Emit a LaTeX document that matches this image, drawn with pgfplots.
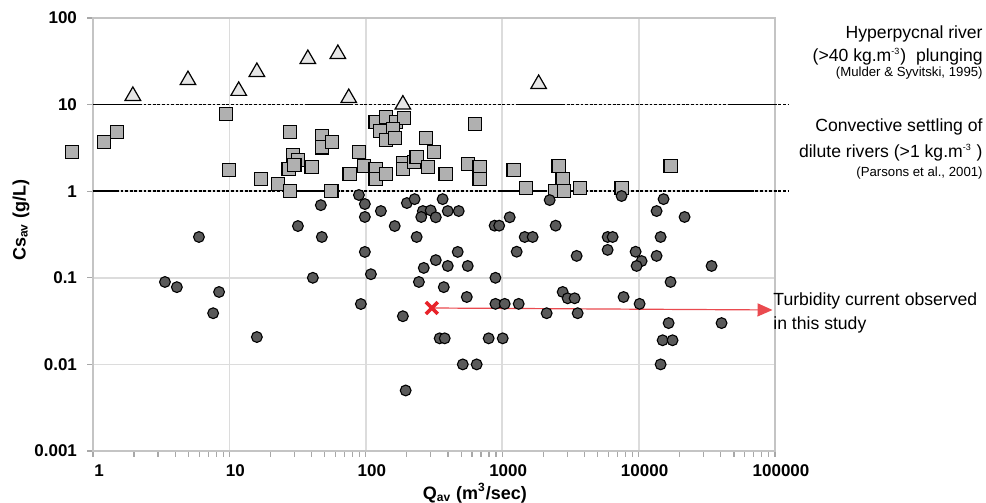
\documentclass[border=0pt]{standalone}
\usepackage{fontspec}
\setmainfont{Liberation Sans}
\usepackage{pgfplots}
\pgfplotsset{compat=1.18}
\usetikzlibrary{arrows.meta}
\definecolor{gridgray}{HTML}{DCDCDC}
\definecolor{axisgray}{HTML}{C4C4C4}
\definecolor{tickgray}{HTML}{A8A8A8}
\definecolor{sqfill}{HTML}{B0B0B0}
\definecolor{circfill}{HTML}{5A5A5A}
\definecolor{trifill}{HTML}{E6E6E6}
\definecolor{xred}{HTML}{E8232A}
\definecolor{arrowred}{HTML}{EA4A4F}
\begin{document}
\begin{tikzpicture}
\useasboundingbox (0,0) rectangle (493pt,251.5pt);
\begin{axis}[
  at={(46.5pt,26pt)}, anchor=south west,
  scale only axis, width=341pt, height=216.5pt,
  xmode=log, ymode=log,
  xmin=1, xmax=100000, ymin=0.001, ymax=100,
  xtick={1,10,100,1000,10000,100000},
  xticklabels={1,10,100,1000,10000,100000},
  minor xtick={2,3,4,5,6,7,8,9,20,30,40,50,60,70,80,90,200,300,400,500,600,700,800,900,2000,3000,4000,5000,6000,7000,8000,9000,20000,30000,40000,50000,60000,70000,80000,90000},
  ytick={0.001,0.01,0.1,1,10,100},
  yticklabels={0.001,0.01,0.1,1,10,100},
  grid=major, major grid style={gridgray, line width=0.9pt},
  minor grid style={draw=none},
  axis line style={axisgray, line width=1.1pt},
  tick pos=left,
  yminorticks=false,
  tick align=outside,
  major tick length=3pt, minor tick length=3pt,
  tick style={tickgray, line width=0.6pt},
  ticklabel style={font=\fontsize{8.5}{10}\selectfont\bfseries, text=black},
  xticklabel style={xshift=3pt, yshift=-0.5pt},
  yticklabel style={xshift=-1.5pt},
  clip=false,
  xlabel={Q\textsubscript{av} (m\textsuperscript{3}/sec)},
  ylabel={Cs\textsubscript{av} (g/L)},
  every axis x label/.style={at={(axis description cs:0.56,-0.097)}, anchor=center, font=\fontsize{9}{10}\selectfont\bfseries},
  every axis y label/.style={at={(axis description cs:-0.1056,0.533)}, anchor=center, rotate=90, font=\fontsize{9}{10}\selectfont\bfseries},
]
% reference lines
\addplot[black, line width=0.7pt, dash pattern=on 1.4pt off 0.9pt] coordinates {(1,10) (124000,10)};
\addplot[black, line width=0.7pt, dash pattern=on 1.4pt off 0.9pt] coordinates {(1,1) (124000,1)};
\addplot[black, line width=0.7pt] coordinates {(1,10) (2.2,10)};
\addplot[black, line width=0.7pt] coordinates {(35.7,10) (80,10)};
\addplot[black, line width=0.7pt] coordinates {(1277,10) (2775,10)};
\addplot[black, line width=0.7pt] coordinates {(44900,10) (99100,10)};
\addplot[black, line width=0.7pt] coordinates {(1,1) (1.5,1)};
\addplot[black, line width=0.7pt] coordinates {(25,1) (54,1)};
\addplot[black, line width=0.7pt] coordinates {(954,1) (2126,1)};
\addplot[black, line width=0.7pt] coordinates {(34000,1) (67000,1)};
% arrow
\addplot[arrowred, line width=0.6pt, -{Triangle[length=7.5pt,width=6.5pt]}] coordinates {(305,0.0448) (95900,0.0425)};
% triangles: hyperpycnal
\addplot[only marks, mark=triangle*, mark size=4.5pt, mark options={fill=trifill, draw=black, line width=0.6pt}] coordinates {
(1.96,12.6) (4.97,19.2) (11.7,14.4) (15.9,23.8) (37.6,33.6) (62.4,38.4) (75,11.9) (187,10.0) (1850,17.3)};
% squares
\addplot[only marks, mark=square*, mark size=3.3pt, mark options={fill=sqfill, draw=black, line width=0.6pt}] coordinates {
(0.70,2.84) (1.2,3.7) (1.5,4.8) (9.4,7.8) (9.9,1.76) (17,1.38) (22.7,1.21) (27.7,1.0) (27.7,4.8)
(29.2,2.6) (31.8,2.3) (27.2,1.8) (30,2.0) (40,1.9) (47.6,4.3) (47.6,3.2) (56.4,3.7) (56,1.0)
(89,2.84) (76,1.58) (96.7,1.95) (118,1.8) (118,1.38) (140,1.58) (118,6.3) (140,7.2) (166,6.3)
(190,7.0) (127,4.95) (158,5.2) (140,3.9) (163,4.1) (187,2.1) (187,1.8) (225,2.17) (236,2.5)
(285,1.9) (275,4.1) (315,2.84) (385,1.58) (559,2.06) (684,1.9) (684,1.38) (629,5.97) (1214,1.76)
(1487,1.09) (2594,1.95) (2775,1.38) (2426,1.0) (2833,1.0) (3700,1.09) (7500,1.09) (17150,1.95)};
% circles
\addplot[only marks, mark=*, mark size=2.7pt, mark options={fill=circfill, draw=black, line width=0.55pt}] coordinates {
(3.37,0.0895) (4.12,0.078) (5.98,0.296) (8.4,0.0686) (7.6,0.039) (15.9,0.0207) (31.8,0.396)
(46.8,0.69) (47.6,0.296) (40.9,0.1) (89,0.904) (98.4,0.711) (98.4,0.504) (129,0.59) (163,0.396)
(200,0.73) (228,0.81) (262,0.59) (255,0.504) (299,0.6) (326,0.5) (366,0.81) (399,0.59) (480,0.59)
(236,0.296) (98.4,0.199) (109,0.11) (92,0.0498) (187,0.036) (245,0.0895) (266,0.13) (326,0.16)
(399,0.137) (472,0.199) (559,0.137) (373,0.078) (550,0.06) (348,0.02) (379,0.02) (514,0.01)
(650,0.01) (196,0.005) (796,0.02) (1009,0.02) (892,0.1) (892,0.05) (1043,0.05) (1321,0.05)
(880,0.4) (950,0.4) (1135,0.5) (1277,0.2) (1462,0.296) (1672,0.296) (2466,0.4) (2229,0.79)
(2118,0.039) (2775,0.0686) (3020,0.058) (3397,0.058) (3575,0.039) (3515,0.179) (5930,0.296)
(6450,0.296) (5930,0.21) (7500,0.88) (7760,0.06) (10170,0.05) (9510,0.2) (10520,0.156)
(9670,0.137) (13550,0.179) (14500,0.296) (13550,0.59) (15240,0.81) (17150,0.0895) (21730,0.504)
(16600,0.03) (15000,0.019) (17740,0.019) (14500,0.01) (34270,0.137) (40560,0.03)};
% this study
\addplot[only marks, mark=x, mark size=4.2pt, mark options={draw=xred, line width=1.8pt}] coordinates {(305,0.0448)};
\end{axis}
\begin{scope}[every node/.style={inner sep=0pt, font=\fontsize{8.8}{10}\selectfont}]
\node[anchor=base east] at (491.5pt,232pt) {Hyperpycnal river};
\node[anchor=base east] at (491.5pt,220.5pt) {(>40 kg.m\textsuperscript{\fontsize{4.5}{5}\selectfont -3})\ \ plunging};
\node[anchor=base east, font=\fontsize{6.6}{7}\selectfont] at (491.5pt,213pt) {(Mulder \& Syvitski, 1995)};
\node[anchor=base east] at (491.5pt,185.5pt) {Convective settling of};
\node[anchor=base east] at (491.5pt,172.5pt) {dilute rivers (>1 kg.m\textsuperscript{\fontsize{4.5}{5}\selectfont -3} )};
\node[anchor=base east, font=\fontsize{6.6}{7}\selectfont] at (491.5pt,163pt) {(Parsons et al., 2001)};
\node[anchor=base west] at (386.5pt,98.5pt) {Turbidity current observed};
\node[anchor=base west] at (386.5pt,86.5pt) {in this study};
\end{scope}
\end{tikzpicture}
\end{document}
